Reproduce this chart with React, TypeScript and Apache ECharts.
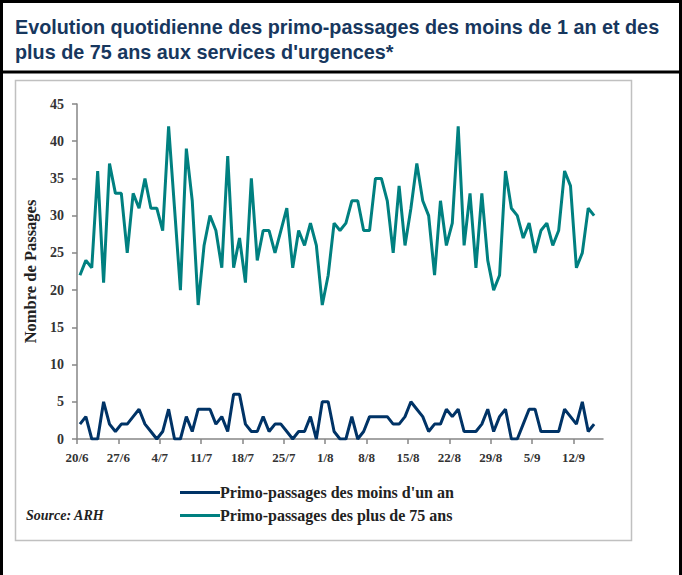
import React, { useEffect, useRef } from "react";
import * as echarts from "echarts";

const tickLabels = ["20/6", "27/6", "4/7", "11/7", "18/7", "25/7", "1/8", "8/8", "15/8", "22/8", "29/8", "5/9", "12/9"];

// daily values from 20/6 to 15/9
const moinsUnAn = [
  2, 3, 0, 0, 5, 2, 1, 2, 2, 3,
  4, 2, 1, 0, 1, 4, 0, 0, 3, 1,
  4, 4, 4, 2, 3, 1, 6, 6, 2, 1,
  1, 3, 1, 2, 2, 1, 0, 1, 1, 3,
  0, 5, 5, 1, 0, 0, 3, 0, 1, 3,
  3, 3, 3, 2, 2, 3, 5, 4, 3, 1,
  2, 2, 4, 3, 4, 1, 1, 1, 2, 4,
  1, 3, 4, 0, 0, 2, 4, 4, 1, 1,
  1, 1, 4, 3, 2, 5, 1, 2,
];

const plus75 = [
  22, 24, 23, 36, 21, 37, 33, 33, 25, 33,
  31, 35, 31, 31, 28, 42, 31, 20, 39, 32,
  18, 26, 30, 28, 23, 38, 23, 27, 21, 35,
  24, 28, 28, 25, 28, 31, 23, 28, 26, 29,
  26, 18, 22, 29, 28, 29, 32, 32, 28, 28,
  35, 35, 32, 25, 34, 26, 31, 37, 32, 30,
  22, 32, 26, 29, 42, 26, 33, 23, 33, 24,
  20, 22, 36, 31, 30, 27, 29, 25, 28, 29,
  26, 28, 36, 34, 23, 25, 31, 30,
];

const seriesNames = ["Primo-passages des moins d'un an", "Primo-passages des plus de 75 ans"];

const SERIF = "'Liberation Serif', 'Times New Roman', serif";
const SANS = "'Liberation Sans', Arial, sans-serif";

export default function App() {
  const ref = useRef<HTMLDivElement>(null);

  useEffect(() => {
    if (!ref.current) return;
    const chart = echarts.init(ref.current, undefined, { renderer: "svg" });
    const tickValues = tickLabels.map((_, i) => i * 7);
    chart.setOption({
      animation: false,
      backgroundColor: "#ffffff",
      title: {
        text: "Evolution quotidienne des primo-passages des moins de 1 an et des\nplus de 75 ans aux services d'urgences*",
        left: 10,
        top: 9,
        textStyle: {
          fontFamily: SANS,
          fontWeight: "bold",
          fontSize: 19.8,
          lineHeight: 25,
          color: "#17375E",
        },
      },
      graphic: [
        {
          type: "rect",
          shape: { x: 1.5, y: 1.5, width: 679, height: 620 },
          style: { fill: "none", stroke: "#000000", lineWidth: 3 },
          silent: true,
        },
        {
          type: "line",
          shape: { x1: 0, y1: 72, x2: 682, y2: 72 },
          style: { stroke: "#000000", lineWidth: 3 },
          silent: true,
        },
        {
          type: "rect",
          shape: { x: 15.5, y: 80.5, width: 616, height: 460 },
          style: { fill: "none", stroke: "#C0C0C0", lineWidth: 1.5 },
          silent: true,
        },
        {
          type: "text",
          left: 26,
          top: 508,
          style: {
            text: "Source: ARH",
            fontFamily: SERIF,
            fontStyle: "italic",
            fontWeight: "bold",
            fontSize: 14,
            fill: "#222222",
          },
        },
      ],
      legend: {
        orient: "vertical",
        left: 175,
        top: 479,
        itemWidth: 40,
        itemHeight: 3,
        itemGap: 6,
        icon: "rect",
        data: seriesNames,
        textStyle: {
          fontFamily: SERIF,
          fontWeight: "bold",
          fontSize: 16,
          lineHeight: 17,
          color: "#222222",
          padding: [0, 0, 0, -5],
        },
      },
      grid: { left: 77, top: 104, width: 526, height: 335, containLabel: false },
      xAxis: {
        type: "value",
        min: 0,
        max: 89,
        interval: 7,
        splitLine: { show: false },
        axisLine: { show: true, lineStyle: { color: "#868686", width: 1.5 } },
        axisTick: {
          show: true,
          inside: false,
          length: 5,
          customValues: tickValues,
          lineStyle: { color: "#868686", width: 1.5 },
        },
        axisLabel: {
          customValues: tickValues,
          formatter: (v: number) => tickLabels[Math.round(v / 7)] ?? "",
          fontFamily: SERIF,
          fontWeight: "bold",
          fontSize: 13,
          color: "#333333",
          margin: 12,
        },
      },
      yAxis: {
        type: "value",
        min: 0,
        max: 45,
        interval: 5,
        name: "Nombre de Passages",
        nameLocation: "middle",
        nameGap: 33,
        nameRotate: 90,
        nameTextStyle: {
          fontFamily: SERIF,
          fontWeight: "bold",
          fontSize: 16.5,
          color: "#222222",
        },
        splitLine: { show: false },
        axisLine: { show: true, lineStyle: { color: "#868686", width: 1.5 } },
        axisTick: { show: true, inside: false, length: 5, lineStyle: { color: "#868686", width: 1.5 } },
        axisLabel: {
          fontFamily: SERIF,
          fontWeight: "bold",
          fontSize: 14,
          color: "#333333",
          margin: 13,
        },
      },
      series: [
        {
          name: seriesNames[0],
          type: "line",
          symbol: "none",
          color: "#003366",
          lineStyle: { width: 3, color: "#003366" },
          data: moinsUnAn.map((v, i) => [i + 0.5, v]),
          z: 3,
        },
        {
          name: seriesNames[1],
          type: "line",
          symbol: "none",
          color: "#008080",
          lineStyle: { width: 3, color: "#008080" },
          data: plus75.map((v, i) => [i + 0.5, v]),
          z: 2,
        },
      ],
    });
    return () => chart.dispose();
  }, []);

  return (
    <div
      ref={ref}
      style={{ position: "absolute", left: 0, top: 0, width: 682, height: 575 }}
    />
  );
}
